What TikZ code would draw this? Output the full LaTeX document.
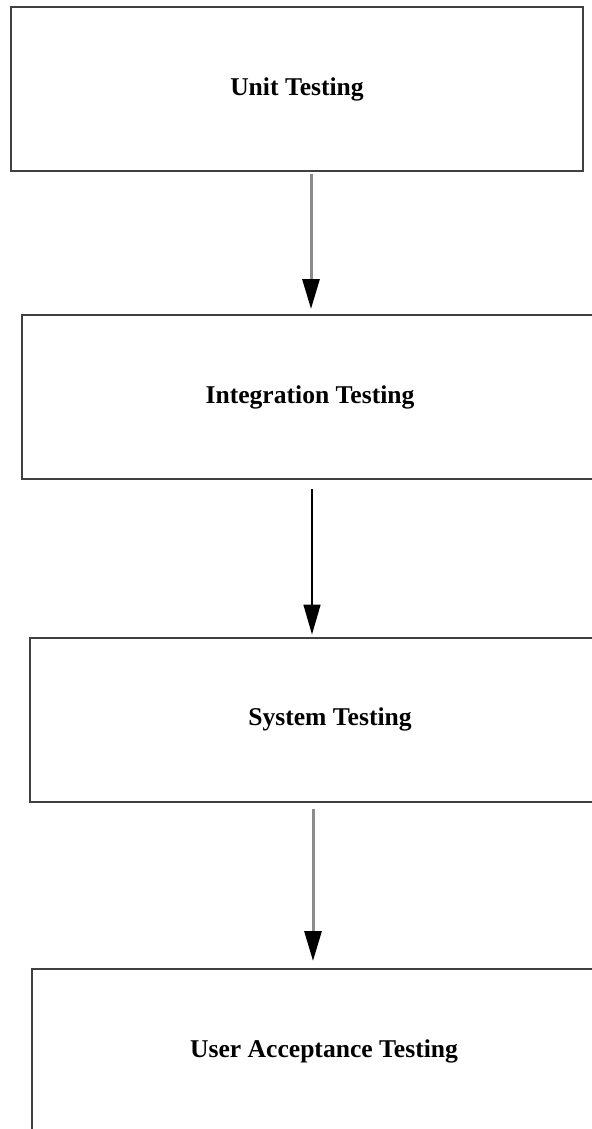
\documentclass[tikz,border=0pt]{standalone}
\usepackage{fontspec}
\setmainfont{Liberation Serif}
\usepackage{tikz}
\usetikzlibrary{arrows.meta}
\tikzstyle{flow} = [line width=1.5pt,draw=black!45,-{Triangle[length=15pt,width=8.5pt,color=black]}]

\begin{document}
\begin{tikzpicture}
        [
            x=0.5pt, y=-0.5pt,
            stage/.style={rectangle,draw=black!75,line width=1pt,inner sep=0pt,minimum height=82pt,
                font=\fontsize{12.8}{15}\selectfont\bfseries},
        ]
    \useasboundingbox (0,0) rectangle (591,1129);

    \node[stage,minimum width=286pt] (unit) at (297,89){Unit Testing};
    \node[stage,minimum width=288pt] (integ) at (310,397){Integration Testing};
    \node[stage,minimum width=300pt] (system) at (330,719.5){System Testing};
    \node[stage,minimum width=292pt] (uat) at (324,1051){User Acceptance Testing};

    \draw[flow,shorten <=1pt,shorten >=2.5pt] (unit.south -| 311,0) -- (integ.north -| 311,0);
    \draw[flow,draw=black,line width=0.8pt,shorten <=4.5pt,shorten >=1pt] (integ.south -| 312,0) -- (system.north -| 312,0);
    \draw[flow,shorten <=3pt,shorten >=3.5pt] (system.south -| 313,0) -- (uat.north -| 313,0);
\end{tikzpicture}
\end{document}
